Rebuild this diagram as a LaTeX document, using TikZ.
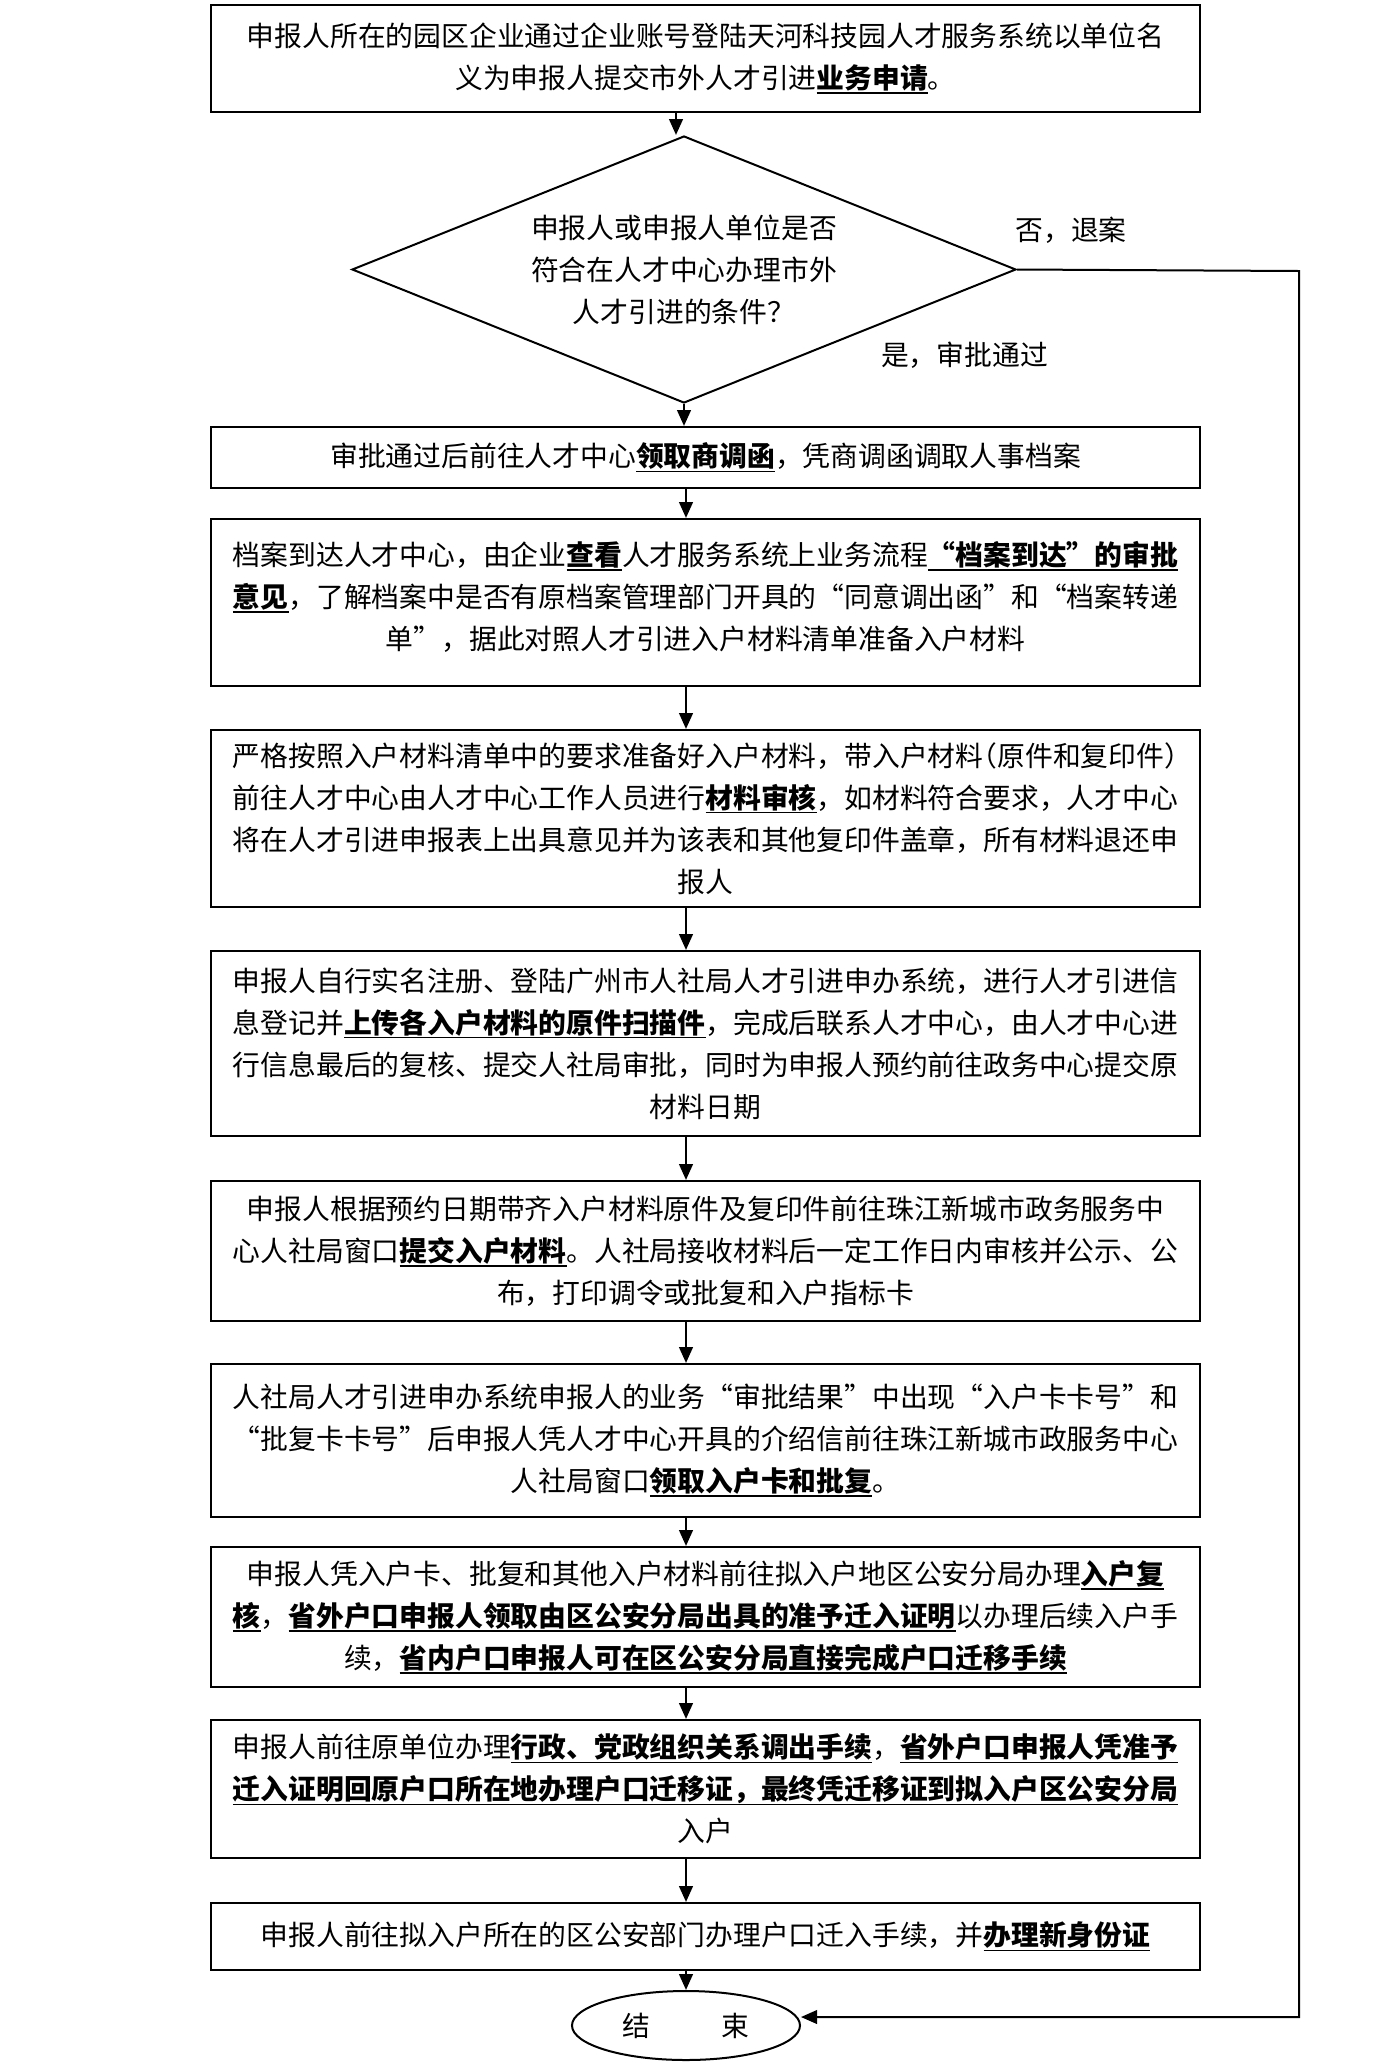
\documentclass[tikz,border=0pt]{standalone}
\usepackage{fontspec}
\setmainfont{Noto Sans CJK SC}[CharacterWidth=Full]
\usetikzlibrary{shapes.geometric,arrows.meta}
\newcommand\boxfont{\fontsize{13.9pt}{21pt}\selectfont}
\newcommand\uln[1]{\leavevmode\setbox0=\hbox{\bfseries #1}\rlap{\rule[-2.6pt]{\wd0}{0.7pt}}\box0}
\begin{document}
\begin{tikzpicture}[x=0.5pt,y=-0.5pt,
  box/.style={draw, line width=1pt, minimum width=494.5pt, text width=488.5pt,
    inner xsep=3pt, inner ysep=2pt, align=center, font=\boxfont},
  arr/.style={-{Triangle[length=8pt,width=6.8pt]}, line width=1.3pt},
  lab/.style={font=\boxfont, inner sep=1pt}]
\useasboundingbox (0,0) rectangle (1396,2062);
\coordinate (ax) at (686,0);
\coordinate (tx) at (676,0);
\coordinate (r1) at (1299,271);
\coordinate (r2) at (1299,2017);

\node[box, minimum height=53.25pt] (b1) at (705.5,58.25)
 {申报人所在的园区企业通过企业账号登陆天河科技园人才服务系统以单位名\\
  义为申报人提交市外人才引进\uln{业务申请}。};

\node[draw, diamond, aspect=2.487, line width=1pt, minimum width=332pt,
  minimum height=133.5pt, inner sep=0pt, align=center, font=\boxfont] (dia) at (684,269.5)
 {申报人或申报人单位是否\\符合在人才中心办理市外\\人才引进的条件？};

\node[lab] (no) at (1071,230) {否，退案};
\node[lab] (yes) at (964.5,355) {是，审批通过};

\node[box, minimum height=30.5pt] (b2) at (705.5,457.5)
 {审批通过后前往人才中心\uln{领取商调函}，凭商调函调取人事档案};

\node[box, minimum height=83.5pt] (b3) at (705.5,602.5)
 {档案到达人才中心，由企业\uln{查看}人才服务系统上业务流程\uln{“档案到达”的审批}\\
  \uln{意见}，了解档案中是否有原档案管理部门开具的“同意调出函”和“档案转递\\
  单”，据此对照人才引进入户材料清单准备入户材料\\[-14pt]\mbox{}};

\node[box, minimum height=88.5pt] (b4) at (705.5,818.5)
 {严格按照入户材料清单中的要求准备好入户材料，带入户材料\kern-0.5em（原件和复印件）\kern-0.5em\\
  前往人才中心由人才中心工作人员进行\uln{材料审核}，如材料符合要求，人才中心\\
  将在人才引进申报表上出具意见并为该表和其他复印件盖章，所有材料退还申\\
  报人};

\node[box, minimum height=92.5pt] (b5) at (705.5,1043.5)
 {申报人自行实名注册、登陆广州市人社局人才引进申办系统，进行人才引进信\\
  息登记并\uln{上传各入户材料的原件扫描件}，完成后联系人才中心，由人才中心进\\
  行信息最后的复核、提交人社局审批，同时为申报人预约前往政务中心提交原\\
  材料日期};

\node[box, minimum height=70pt] (b6) at (705.5,1251)
 {申报人根据预约日期带齐入户材料原件及复印件前往珠江新城市政务服务中\\
  心人社局窗口\uln{提交入户材料}。人社局接收材料后一定工作日内审核并公示、公\\
  布，打印调令或批复和入户指标卡};

\node[box, minimum height=76.5pt] (b7) at (705.5,1440.5)
 {人社局人才引进申办系统申报人的业务“审批结果”中出现“入户卡卡号”和\\
  “批复卡卡号”后申报人凭人才中心开具的介绍信前往珠江新城市政服务中心\\
  人社局窗口\uln{领取入户卡和批复}。};

\node[box, minimum height=70pt] (b8) at (705.5,1617)
 {申报人凭入户卡、批复和其他入户材料前往拟入户地区公安分局办理\uln{入户复}\\
  \uln{核}，\uln{省外户口申报人领取由区公安分局出具的准予迁入证明}以办理后续入户手\\
  续，\uln{省内户口申报人可在区公安分局直接完成户口迁移手续}};

\node[box, minimum height=69pt] (b9) at (705.5,1789)
 {申报人前往原单位办理\uln{行政、党政组织关系调出手续}，\uln{省外户口申报人凭准予}\\
  \uln{迁入证明回原户口所在地办理户口迁移证，最终凭迁移证到拟入户区公安分局}\\
  入户};

\node[box, minimum height=33.5pt] (b10) at (705.5,1936.5)
 {申报人前往拟入户所在的区公安部门办理户口迁入手续，并\uln{办理新身份证}};

\node[draw, ellipse, line width=1pt, minimum width=114pt, minimum height=34.5pt,
  inner sep=0pt, font=\boxfont] (end) at (686,2025.5) {结\hspace{35.5pt}束};

\draw[arr] (b1.south -| tx) -- (dia.north -| tx);
\draw[arr] (dia.south) -- (b2.north -| dia.south);
\draw[arr] (b2.south -| ax) -- (b3.north -| ax);
\draw[arr] (b3.south -| ax) -- (b4.north -| ax);
\draw[arr] (b4.south -| ax) -- (b5.north -| ax);
\draw[arr] (b5.south -| ax) -- (b6.north -| ax);
\draw[arr] (b6.south -| ax) -- (b7.north -| ax);
\draw[arr] (b7.south -| ax) -- (b8.north -| ax);
\draw[arr] (b8.south -| ax) -- (b9.north -| ax);
\draw[arr] (b9.south -| ax) -- (b10.north -| ax);
\draw[arr] (b10.south -| ax) -- (end.north);
\draw[arr, line width=1pt] (dia.east) -- (r1) -- (r2) -- (r2 -| end.east);
\end{tikzpicture}
\end{document}
